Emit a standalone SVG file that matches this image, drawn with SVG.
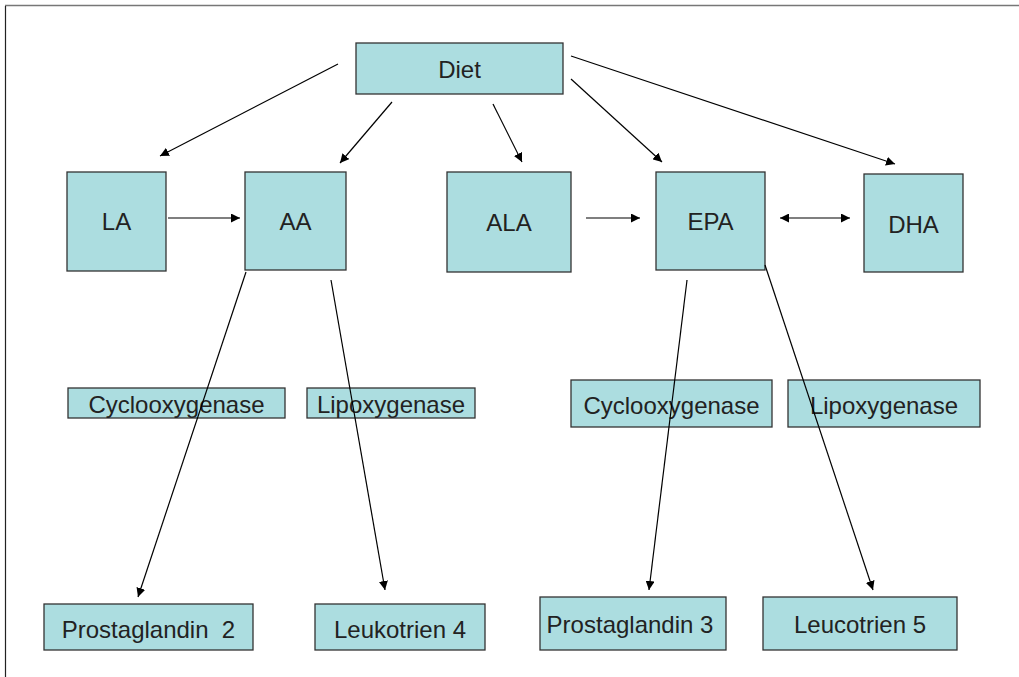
<svg xmlns="http://www.w3.org/2000/svg" width="1019" height="677" viewBox="0 0 1019 677">
<style>
.box{fill:#acdde0;stroke:#333;stroke-width:1.3}
.t{font-family:"Liberation Sans",Arial,sans-serif;font-size:24px;fill:#222;text-anchor:middle;dominant-baseline:central}
.c{stroke:#000;stroke-width:1.2;fill:none}
</style>
<defs>
<marker id="ah" viewBox="0 0 10 10" refX="10" refY="5" markerWidth="9" markerHeight="9" markerUnits="userSpaceOnUse" orient="auto-start-reverse">
<path d="M0,0 L10,5 L0,10 Z" fill="#000"/>
</marker>
</defs>
<rect width="1019" height="677" fill="#fff"/>
<line x1="5" y1="5.5" x2="1019" y2="5.5" stroke="#777" stroke-width="1.5"/>
<line x1="5.5" y1="6" x2="5.5" y2="677" stroke="#222" stroke-width="1.2"/>
<g id="diet"><rect class="box" x="356" y="43" width="207" height="51"/><text class="t" x="459.5" y="69">Diet</text></g>
<g id="la"><rect class="box" x="67" y="172" width="99" height="99"/><text class="t" x="116.5" y="221">LA</text></g>
<g id="aa"><rect class="box" x="245" y="172" width="101" height="98"/><text class="t" x="295.5" y="221">AA</text></g>
<g id="ala"><rect class="box" x="447" y="172" width="124" height="100"/><text class="t" x="509" y="222">ALA</text></g>
<g id="epa"><rect class="box" x="656" y="172" width="109" height="98"/><text class="t" x="710.5" y="221">EPA</text></g>
<g id="dha"><rect class="box" x="864" y="174" width="99" height="98"/><text class="t" x="913.5" y="224">DHA</text></g>
<g id="cox1"><rect class="box" x="68" y="388" width="217" height="30"/><text class="t" x="176.5" y="404">Cyclooxygenase</text></g>
<g id="lox1"><rect class="box" x="307" y="388" width="168" height="30"/><text class="t" x="391" y="404">Lipoxygenase</text></g>
<g id="cox2"><rect class="box" x="571" y="380" width="201" height="47"/><text class="t" x="671.5" y="405">Cyclooxygenase</text></g>
<g id="lox2"><rect class="box" x="788" y="380" width="192" height="47"/><text class="t" x="884" y="405">Lipoxygenase</text></g>
<g id="pg2"><rect class="box" x="44" y="604" width="209" height="46"/><text class="t" x="148.5" y="629" xml:space="preserve">Prostaglandin  2</text></g>
<g id="lt4"><rect class="box" x="315" y="604" width="170" height="46"/><text class="t" x="400" y="629">Leukotrien 4</text></g>
<g id="pg3"><rect class="box" x="540" y="597" width="186" height="53"/><text class="t" x="630" y="624">Prostaglandin 3</text></g>
<g id="lt5"><rect class="box" x="763" y="597" width="194" height="53"/><text class="t" x="860" y="624">Leucotrien 5</text></g>
<g id="connectors">
<line class="c" x1="338" y1="64" x2="160" y2="156" marker-end="url(#ah)"/>
<line class="c" x1="392" y1="102" x2="340" y2="163" marker-end="url(#ah)"/>
<line class="c" x1="493" y1="104" x2="522" y2="162" marker-end="url(#ah)"/>
<line class="c" x1="571" y1="79" x2="662" y2="162" marker-end="url(#ah)"/>
<line class="c" x1="571" y1="56" x2="895" y2="164" marker-end="url(#ah)"/>
<line class="c" x1="168" y1="218" x2="240" y2="218" marker-end="url(#ah)"/>
<line class="c" x1="586" y1="218" x2="640" y2="218" marker-end="url(#ah)"/>
<line class="c" x1="780" y1="218" x2="850" y2="218" marker-start="url(#ah)" marker-end="url(#ah)"/>
<line class="c" x1="246" y1="272" x2="138" y2="597" marker-end="url(#ah)"/>
<line class="c" x1="331" y1="280" x2="385" y2="590" marker-end="url(#ah)"/>
<line class="c" x1="687" y1="280" x2="649" y2="590" marker-end="url(#ah)"/>
<line class="c" x1="765" y1="265" x2="873" y2="590" marker-end="url(#ah)"/>
</g>
</svg>
